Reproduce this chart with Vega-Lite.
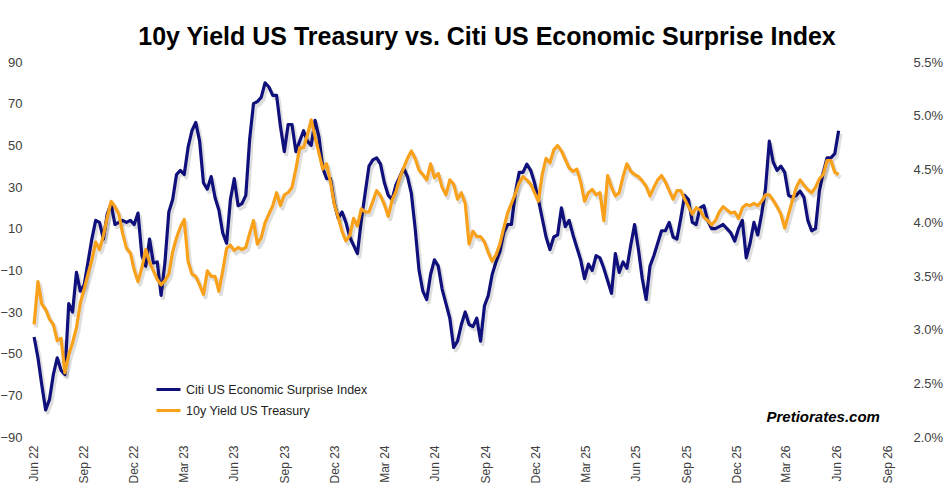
{
  "$schema": "https://vega.github.io/schema/vega-lite/v6.json",
  "width": 854,
  "height": 375,
  "autosize": {"type": "none"},
  "padding": {"left": 33, "top": 62, "right": 58, "bottom": 58},
  "background": "white",
  "title": {
    "text": "10y Yield US Treasury vs. Citi US Economic Surprise Index",
    "font": "Liberation Sans",
    "fontSize": 25,
    "fontWeight": "bold",
    "color": "#000000",
    "anchor": "middle",
    "dx": 27,
    "offset": 6
  },
  "data": {
    "values": [
      {"d": "2022-06-03", "c": -42, "y": 3.05},
      {"d": "2022-06-10", "c": -52, "y": 3.45},
      {"d": "2022-06-17", "c": -65, "y": 3.24},
      {"d": "2022-06-24", "c": -77, "y": 3.19},
      {"d": "2022-07-01", "c": -72, "y": 3.10},
      {"d": "2022-07-08", "c": -60, "y": 3.05},
      {"d": "2022-07-15", "c": -52, "y": 2.90},
      {"d": "2022-07-22", "c": -58, "y": 2.92},
      {"d": "2022-07-29", "c": -60, "y": 2.60},
      {"d": "2022-08-05", "c": -26, "y": 2.77},
      {"d": "2022-08-12", "c": -30, "y": 2.88},
      {"d": "2022-08-19", "c": -11, "y": 3.02},
      {"d": "2022-08-26", "c": -20, "y": 3.25},
      {"d": "2022-09-02", "c": -17, "y": 3.38},
      {"d": "2022-09-09", "c": -6, "y": 3.52},
      {"d": "2022-09-16", "c": 5, "y": 3.65},
      {"d": "2022-09-23", "c": 14, "y": 3.82},
      {"d": "2022-09-30", "c": 13, "y": 3.75},
      {"d": "2022-10-07", "c": 5, "y": 3.88},
      {"d": "2022-10-14", "c": 17, "y": 4.05},
      {"d": "2022-10-21", "c": 22, "y": 4.20},
      {"d": "2022-10-28", "c": 12, "y": 4.15},
      {"d": "2022-11-04", "c": 13, "y": 4.08},
      {"d": "2022-11-11", "c": 14, "y": 3.90},
      {"d": "2022-11-18", "c": 13, "y": 3.76},
      {"d": "2022-11-25", "c": 14, "y": 3.72},
      {"d": "2022-12-02", "c": 12, "y": 3.56},
      {"d": "2022-12-09", "c": 17.5, "y": 3.45},
      {"d": "2022-12-16", "c": -3, "y": 3.58},
      {"d": "2022-12-23", "c": -8, "y": 3.75},
      {"d": "2022-12-30", "c": 5, "y": 3.63},
      {"d": "2023-01-06", "c": -6.5, "y": 3.55},
      {"d": "2023-01-13", "c": -6, "y": 3.47},
      {"d": "2023-01-20", "c": -22, "y": 3.42},
      {"d": "2023-01-27", "c": -6, "y": 3.46},
      {"d": "2023-02-03", "c": 18, "y": 3.52},
      {"d": "2023-02-10", "c": 24, "y": 3.73},
      {"d": "2023-02-17", "c": 36, "y": 3.86},
      {"d": "2023-02-24", "c": 38, "y": 3.96},
      {"d": "2023-03-03", "c": 36, "y": 4.03},
      {"d": "2023-03-10", "c": 49, "y": 3.64},
      {"d": "2023-03-17", "c": 57, "y": 3.52},
      {"d": "2023-03-24", "c": 61, "y": 3.50},
      {"d": "2023-03-31", "c": 52, "y": 3.42},
      {"d": "2023-04-07", "c": 32, "y": 3.33},
      {"d": "2023-04-14", "c": 29, "y": 3.55},
      {"d": "2023-04-21", "c": 35, "y": 3.50},
      {"d": "2023-04-28", "c": 25, "y": 3.50},
      {"d": "2023-05-05", "c": 19, "y": 3.36},
      {"d": "2023-05-12", "c": 8, "y": 3.55},
      {"d": "2023-05-19", "c": 3, "y": 3.76},
      {"d": "2023-05-26", "c": 24, "y": 3.79},
      {"d": "2023-06-02", "c": 34, "y": 3.74},
      {"d": "2023-06-09", "c": 21, "y": 3.77},
      {"d": "2023-06-16", "c": 22, "y": 3.75},
      {"d": "2023-06-23", "c": 26, "y": 3.77},
      {"d": "2023-06-30", "c": 53, "y": 3.90},
      {"d": "2023-07-07", "c": 70, "y": 4.02},
      {"d": "2023-07-14", "c": 71, "y": 3.80},
      {"d": "2023-07-21", "c": 73, "y": 3.86},
      {"d": "2023-07-28", "c": 80, "y": 4.00},
      {"d": "2023-08-04", "c": 78, "y": 4.08},
      {"d": "2023-08-11", "c": 74, "y": 4.16},
      {"d": "2023-08-18", "c": 74, "y": 4.28},
      {"d": "2023-08-25", "c": 59, "y": 4.16},
      {"d": "2023-09-01", "c": 47, "y": 4.26},
      {"d": "2023-09-08", "c": 60, "y": 4.28},
      {"d": "2023-09-15", "c": 60, "y": 4.33},
      {"d": "2023-09-22", "c": 47, "y": 4.50},
      {"d": "2023-09-29", "c": 52, "y": 4.70},
      {"d": "2023-10-06", "c": 57, "y": 4.70},
      {"d": "2023-10-13", "c": 52, "y": 4.82},
      {"d": "2023-10-20", "c": 50, "y": 4.96},
      {"d": "2023-10-27", "c": 62, "y": 4.80},
      {"d": "2023-11-03", "c": 54, "y": 4.65},
      {"d": "2023-11-10", "c": 39, "y": 4.50},
      {"d": "2023-11-17", "c": 34, "y": 4.55},
      {"d": "2023-11-24", "c": 34, "y": 4.38},
      {"d": "2023-12-01", "c": 22, "y": 4.17},
      {"d": "2023-12-08", "c": 15, "y": 4.05},
      {"d": "2023-12-15", "c": 18, "y": 3.92},
      {"d": "2023-12-22", "c": 13, "y": 3.83},
      {"d": "2023-12-29", "c": 6, "y": 3.88},
      {"d": "2024-01-05", "c": 2, "y": 4.04},
      {"d": "2024-01-12", "c": -2, "y": 3.97},
      {"d": "2024-01-19", "c": 14, "y": 4.13},
      {"d": "2024-01-26", "c": 27, "y": 4.10},
      {"d": "2024-02-02", "c": 40, "y": 4.10},
      {"d": "2024-02-09", "c": 43, "y": 4.20},
      {"d": "2024-02-16", "c": 44, "y": 4.30},
      {"d": "2024-02-23", "c": 41, "y": 4.25},
      {"d": "2024-03-01", "c": 32, "y": 4.17},
      {"d": "2024-03-08", "c": 26, "y": 4.06},
      {"d": "2024-03-15", "c": 24, "y": 4.21},
      {"d": "2024-03-22", "c": 31, "y": 4.29},
      {"d": "2024-03-29", "c": 35, "y": 4.42},
      {"d": "2024-04-05", "c": 39, "y": 4.51},
      {"d": "2024-04-12", "c": 35, "y": 4.60},
      {"d": "2024-04-19", "c": 27, "y": 4.67},
      {"d": "2024-04-26", "c": 10, "y": 4.60},
      {"d": "2024-05-03", "c": -10, "y": 4.49},
      {"d": "2024-05-10", "c": -20, "y": 4.45},
      {"d": "2024-05-17", "c": -24, "y": 4.40},
      {"d": "2024-05-24", "c": -12, "y": 4.55},
      {"d": "2024-05-31", "c": -5, "y": 4.42},
      {"d": "2024-06-07", "c": -8, "y": 4.46},
      {"d": "2024-06-14", "c": -19, "y": 4.33},
      {"d": "2024-06-21", "c": -26, "y": 4.26},
      {"d": "2024-06-28", "c": -33, "y": 4.40},
      {"d": "2024-07-05", "c": -47, "y": 4.36},
      {"d": "2024-07-12", "c": -44, "y": 4.22},
      {"d": "2024-07-19", "c": -36, "y": 4.28},
      {"d": "2024-07-26", "c": -30, "y": 4.18},
      {"d": "2024-08-02", "c": -36, "y": 3.80},
      {"d": "2024-08-09", "c": -37, "y": 3.92},
      {"d": "2024-08-16", "c": -33, "y": 3.87},
      {"d": "2024-08-23", "c": -44, "y": 3.87},
      {"d": "2024-08-30", "c": -27, "y": 3.82},
      {"d": "2024-09-06", "c": -22, "y": 3.72},
      {"d": "2024-09-13", "c": -12, "y": 3.64},
      {"d": "2024-09-20", "c": -6, "y": 3.70},
      {"d": "2024-09-27", "c": -1, "y": 3.80},
      {"d": "2024-10-04", "c": 8, "y": 3.95},
      {"d": "2024-10-11", "c": 12, "y": 4.09},
      {"d": "2024-10-18", "c": 12, "y": 4.18},
      {"d": "2024-10-25", "c": 27, "y": 4.27},
      {"d": "2024-11-01", "c": 37, "y": 4.37},
      {"d": "2024-11-08", "c": 37, "y": 4.43},
      {"d": "2024-11-15", "c": 41, "y": 4.40},
      {"d": "2024-11-22", "c": 38, "y": 4.36},
      {"d": "2024-11-29", "c": 32, "y": 4.28},
      {"d": "2024-12-06", "c": 24, "y": 4.20},
      {"d": "2024-12-13", "c": 15, "y": 4.45},
      {"d": "2024-12-20", "c": 6, "y": 4.60},
      {"d": "2024-12-27", "c": 0, "y": 4.56},
      {"d": "2025-01-03", "c": 6, "y": 4.68},
      {"d": "2025-01-10", "c": 7, "y": 4.72},
      {"d": "2025-01-17", "c": 20, "y": 4.67},
      {"d": "2025-01-24", "c": 11, "y": 4.59},
      {"d": "2025-01-31", "c": 14, "y": 4.51},
      {"d": "2025-02-07", "c": 7, "y": 4.48},
      {"d": "2025-02-14", "c": 1, "y": 4.50},
      {"d": "2025-02-21", "c": -5, "y": 4.38},
      {"d": "2025-02-28", "c": -14, "y": 4.20},
      {"d": "2025-03-07", "c": -7, "y": 4.28},
      {"d": "2025-03-14", "c": -10, "y": 4.31},
      {"d": "2025-03-21", "c": -3, "y": 4.26},
      {"d": "2025-03-28", "c": -4, "y": 4.28},
      {"d": "2025-04-04", "c": -9, "y": 4.02},
      {"d": "2025-04-11", "c": -15, "y": 4.44},
      {"d": "2025-04-18", "c": -21, "y": 4.33},
      {"d": "2025-04-25", "c": -2, "y": 4.25},
      {"d": "2025-05-02", "c": -11, "y": 4.28},
      {"d": "2025-05-09", "c": -6, "y": 4.43},
      {"d": "2025-05-16", "c": -9, "y": 4.55},
      {"d": "2025-05-23", "c": 2, "y": 4.48},
      {"d": "2025-05-30", "c": 12, "y": 4.45},
      {"d": "2025-06-06", "c": 0, "y": 4.43},
      {"d": "2025-06-13", "c": -14, "y": 4.39},
      {"d": "2025-06-20", "c": -24, "y": 4.34},
      {"d": "2025-06-27", "c": -8, "y": 4.25},
      {"d": "2025-07-04", "c": -3, "y": 4.33},
      {"d": "2025-07-11", "c": 3, "y": 4.40},
      {"d": "2025-07-18", "c": 9, "y": 4.44},
      {"d": "2025-07-25", "c": 9, "y": 4.38},
      {"d": "2025-08-01", "c": 13, "y": 4.30},
      {"d": "2025-08-08", "c": 6, "y": 4.22},
      {"d": "2025-08-15", "c": 5, "y": 4.30},
      {"d": "2025-08-22", "c": 15, "y": 4.30},
      {"d": "2025-08-29", "c": 26, "y": 4.22},
      {"d": "2025-09-05", "c": 24, "y": 4.15},
      {"d": "2025-09-12", "c": 13, "y": 4.08},
      {"d": "2025-09-19", "c": 12, "y": 4.14},
      {"d": "2025-09-26", "c": 20, "y": 4.12},
      {"d": "2025-10-03", "c": 21, "y": 4.05},
      {"d": "2025-10-10", "c": 14, "y": 4.02},
      {"d": "2025-10-17", "c": 10, "y": 3.98},
      {"d": "2025-10-24", "c": 10, "y": 4.02},
      {"d": "2025-10-31", "c": 11, "y": 4.10},
      {"d": "2025-11-07", "c": 12, "y": 4.15},
      {"d": "2025-11-14", "c": 10, "y": 4.12},
      {"d": "2025-11-21", "c": 8, "y": 4.09},
      {"d": "2025-11-28", "c": 4, "y": 4.10},
      {"d": "2025-12-05", "c": 10, "y": 4.04},
      {"d": "2025-12-12", "c": 14, "y": 4.14},
      {"d": "2025-12-19", "c": -4, "y": 4.17},
      {"d": "2025-12-26", "c": 3, "y": 4.16},
      {"d": "2026-01-02", "c": 13, "y": 4.18},
      {"d": "2026-01-09", "c": 7, "y": 4.16},
      {"d": "2026-01-16", "c": 17, "y": 4.20},
      {"d": "2026-01-23", "c": 29, "y": 4.26},
      {"d": "2026-01-30", "c": 52, "y": 4.26},
      {"d": "2026-02-06", "c": 42, "y": 4.21},
      {"d": "2026-02-13", "c": 38, "y": 4.15},
      {"d": "2026-02-20", "c": 40, "y": 4.08},
      {"d": "2026-02-27", "c": 37, "y": 3.95},
      {"d": "2026-03-06", "c": 26, "y": 4.08},
      {"d": "2026-03-13", "c": 25, "y": 4.21},
      {"d": "2026-03-20", "c": 26, "y": 4.33},
      {"d": "2026-03-27", "c": 28, "y": 4.40},
      {"d": "2026-04-03", "c": 25, "y": 4.35},
      {"d": "2026-04-10", "c": 14, "y": 4.31},
      {"d": "2026-04-17", "c": 9, "y": 4.28},
      {"d": "2026-04-24", "c": 10, "y": 4.33},
      {"d": "2026-05-01", "c": 28, "y": 4.41},
      {"d": "2026-05-08", "c": 37, "y": 4.45},
      {"d": "2026-05-15", "c": 44, "y": 4.58},
      {"d": "2026-05-22", "c": 44, "y": 4.58},
      {"d": "2026-05-29", "c": 46, "y": 4.47},
      {"d": "2026-06-05", "c": 57, "y": 4.45}
    ]
  },
  "encoding": {
    "x": {
      "field": "d",
      "type": "temporal",
      "scale": {
        "type": "utc",
        "domain": [
          {"year": 2022, "month": 6, "date": 1, "utc": true},
          {"year": 2026, "month": 9, "date": 1, "utc": true}
        ]
      },
      "axis": {
        "title": null,
        "values": [
          {"year": 2022, "month": 6, "date": 1, "utc": true},
          {"year": 2022, "month": 9, "date": 1, "utc": true},
          {"year": 2022, "month": 12, "date": 1, "utc": true},
          {"year": 2023, "month": 3, "date": 1, "utc": true},
          {"year": 2023, "month": 6, "date": 1, "utc": true},
          {"year": 2023, "month": 9, "date": 1, "utc": true},
          {"year": 2023, "month": 12, "date": 1, "utc": true},
          {"year": 2024, "month": 3, "date": 1, "utc": true},
          {"year": 2024, "month": 6, "date": 1, "utc": true},
          {"year": 2024, "month": 9, "date": 1, "utc": true},
          {"year": 2024, "month": 12, "date": 1, "utc": true},
          {"year": 2025, "month": 3, "date": 1, "utc": true},
          {"year": 2025, "month": 6, "date": 1, "utc": true},
          {"year": 2025, "month": 9, "date": 1, "utc": true},
          {"year": 2025, "month": 12, "date": 1, "utc": true},
          {"year": 2026, "month": 3, "date": 1, "utc": true},
          {"year": 2026, "month": 6, "date": 1, "utc": true},
          {"year": 2026, "month": 9, "date": 1, "utc": true}
        ],
        "format": "%b %y",
        "labelAngle": 270,
        "labelAlign": "right",
        "labelBaseline": "middle",
        "labelPadding": 8,
        "labelFontSize": 12,
        "labelColor": "#404040",
        "labelFlush": false,
        "labelOverlap": false,
        "labelBound": false,
        "ticks": false,
        "domain": false,
        "grid": false
      }
    }
  },
  "layer": [
    {
      "encoding": {
        "y": {
          "field": "c",
          "type": "quantitative",
          "scale": {"domain": [-90, 90], "nice": false, "zero": false},
          "axis": {
            "title": null,
            "orient": "left",
            "values": [-90, -70, -50, -30, -10, 10, 30, 50, 70, 90],
            "labelPadding": 11,
            "labelFontSize": 13,
            "labelColor": "#404040",
            "labelFlush": false,
            "labelOverlap": false,
            "ticks": false,
            "domain": false,
            "grid": false
          }
        }
      },
      "layer": [
        {
          "mark": {"type": "line", "stroke": "#000000", "strokeOpacity": 0.13, "strokeWidth": 4, "xOffset": 2, "yOffset": 3, "strokeJoin": "round"}
        },
        {
          "mark": {"type": "line", "strokeWidth": 3.2, "strokeJoin": "round"},
          "encoding": {
            "color": {
              "datum": "Citi US Economic Surprise Index",
              "type": "nominal",
              "scale": {
                "domain": ["Citi US Economic Surprise Index", "10y Yield US Treasury"],
                "range": ["#10107c", "#F9A11B"]
              },
              "legend": {
                "title": null,
                "orient": "none",
                "legendX": 122,
                "legendY": 314,
                "symbolType": "stroke",
                "symbolSize": 576,
                "symbolStrokeWidth": 3,
                "labelFontSize": 12.5,
                "labelColor": "#222222",
                "labelOffset": 4,
                "labelLimit": 0,
                "rowPadding": 1,
                "padding": 0
              }
            }
          }
        },
        {
          "data": {"values": [{"d": "2026-05-08", "c": -80.4, "t": "Pretiorates.com"}]},
          "mark": {"type": "text", "font": "Liberation Sans", "fontSize": 15, "fontWeight": "bold", "fontStyle": "italic", "color": "#000000", "align": "center", "baseline": "middle"},
          "encoding": {"text": {"field": "t"}}
        }
      ]
    },
    {
      "encoding": {
        "y": {
          "field": "y",
          "type": "quantitative",
          "scale": {"domain": [2, 5.5], "nice": false, "zero": false},
          "axis": {
            "title": null,
            "orient": "right",
            "values": [2, 2.5, 3, 3.5, 4, 4.5, 5, 5.5],
            "labelExpr": "format(datum.value, '.1f') + '%'",
            "labelPadding": 26,
            "labelAlign": "left",
            "labelFontSize": 13,
            "labelColor": "#404040",
            "labelFlush": false,
            "labelOverlap": false,
            "ticks": false,
            "domain": false,
            "grid": false
          }
        }
      },
      "layer": [
        {
          "mark": {"type": "line", "stroke": "#000000", "strokeOpacity": 0.13, "strokeWidth": 4, "xOffset": 2, "yOffset": 3, "strokeJoin": "round"}
        },
        {
          "mark": {"type": "line", "strokeWidth": 3.2, "strokeJoin": "round"},
          "encoding": {
            "color": {"datum": "10y Yield US Treasury", "type": "nominal"}
          }
        }
      ]
    }
  ],
  "resolve": {"scale": {"y": "independent"}},
  "config": {
    "view": {"stroke": null},
    "font": "Liberation Sans"
  }
}
